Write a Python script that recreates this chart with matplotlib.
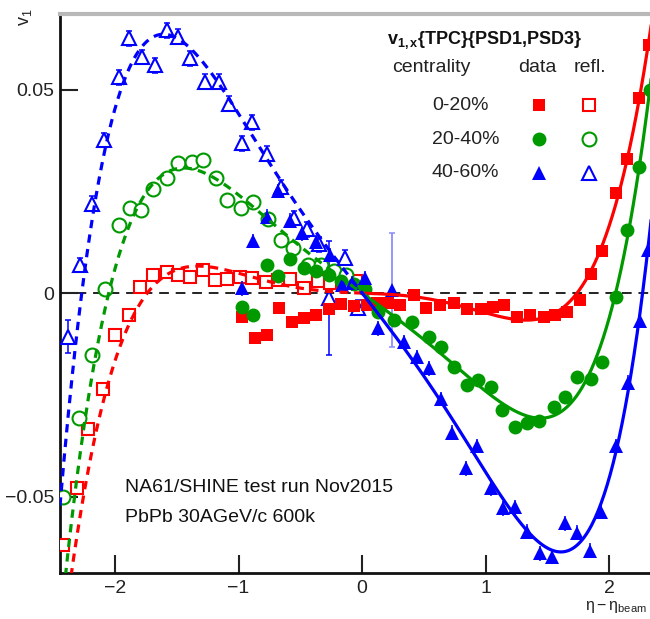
import numpy as np
import matplotlib
matplotlib.use("Agg")
import matplotlib.pyplot as plt

plt.rcParams['font.family'] = ['Liberation Sans', 'DejaVu Sans']
plt.rcParams['mathtext.fontset'] = 'custom'
plt.rcParams['mathtext.rm'] = 'Liberation Sans'
plt.rcParams['mathtext.bf'] = 'Liberation Sans:bold'
plt.rcParams['mathtext.it'] = 'Liberation Sans:italic'

# ---- v1 vs eta - eta_beam, three centrality classes ----
# 0-20 %
red_eta = [-0.97, -0.87, -0.77, -0.67, -0.57, -0.47, -0.37, -0.27, -0.17, -0.07,
           0.04, 0.12, 0.21, 0.31, 0.42, 0.52, 0.63, 0.74, 0.85, 0.96, 1.06, 1.15,
           1.25, 1.36, 1.47, 1.56, 1.66, 1.76, 1.85, 1.94, 2.05, 2.14, 2.24, 2.32]
red_v1 = [-0.0058, -0.0111, -0.0103, -0.0036, -0.0070, -0.0060, -0.0054, -0.0040, -0.0028, -0.0032,
          -0.0030, -0.0025, -0.0025, -0.0030, -0.0005, -0.0036, -0.0030, -0.0025, -0.0040, -0.0038,
          -0.0033, -0.0030, -0.0058, -0.0055, -0.0058, -0.0055, -0.0046, -0.0017, 0.0048, 0.0104,
          0.0245, 0.0330, 0.0480, 0.0610]
red_refl_eta = [-2.42, -2.31, -2.22, -2.10, -2.00, -1.89, -1.80, -1.69, -1.58, -1.49, -1.39,
                -1.29, -1.19, -1.09, -0.99, -0.89, -0.78, -0.68, -0.58, -0.47, -0.36, -0.26,
                -0.15, -0.05]
red_refl_v1 = [-0.0620, -0.0480, -0.0335, -0.0235, -0.0103, -0.0054, 0.0015, 0.0044, 0.0052,
               0.0044, 0.0040, 0.0057, 0.0032, 0.0035, 0.0040, 0.0037, 0.0028, 0.0032, 0.0034,
               0.0012, 0.0030, 0.0025, 0.0025, 0.0030]

# 20-40 %
green_eta = [-0.97, -0.88, -0.77, -0.68, -0.58, -0.47, -0.37, -0.27, -0.17, -0.07,
             0.02, 0.13, 0.26, 0.40, 0.54, 0.64, 0.74, 0.85, 0.94, 1.04, 1.13, 1.24,
             1.33, 1.43, 1.55, 1.64, 1.74, 1.85, 1.94, 2.05, 2.14, 2.24, 2.33]
green_v1 = [-0.0034, -0.0054, 0.0070, 0.0042, 0.0083, 0.0062, 0.0055, 0.0045, 0.0030, 0.0022,
            0.0010, -0.0046, -0.0066, -0.0072, -0.0107, -0.0133, -0.0181, -0.0226, -0.0214,
            -0.0230, -0.0287, -0.0328, -0.0320, -0.0314, -0.0279, -0.0255, -0.0206, -0.0210,
            -0.0169, -0.0010, 0.0155, 0.0310, 0.0500]
green_refl_eta = [-2.42, -2.29, -2.19, -2.08, -1.97, -1.88, -1.79, -1.69, -1.58, -1.49, -1.38,
                  -1.285, -1.18, -1.09, -0.98, -0.88, -0.76, -0.66, -0.56, -0.44, -0.33,
                  -0.23, -0.13]
green_refl_v1 = [-0.0500, -0.0307, -0.0152, 0.0011, 0.0167, 0.0208, 0.0204, 0.0255, 0.0282,
                 0.0319, 0.0323, 0.0327, 0.0282, 0.0229, 0.0208, 0.0224, 0.0181, 0.0130,
                 0.0110, 0.0070, 0.0068, 0.0055, 0.0045]

# 40-60 %
blue_eta = [-0.975, -0.88, -0.77, -0.68, -0.585, -0.49, -0.37, -0.26, -0.165, -0.085,
            0.02, 0.13, 0.24, 0.34, 0.44, 0.54, 0.64, 0.73, 0.84, 0.93, 1.04, 1.14, 1.24,
            1.33, 1.44, 1.54, 1.64, 1.74, 1.84, 1.93, 2.05, 2.15, 2.25, 2.31]
blue_v1 = [0.0012, 0.0128, 0.0188, 0.0251, 0.0178, 0.0147, 0.0126, 0.0094, 0.0020, 0.0024,
           0.0036, -0.0087, 0.0007, -0.0120, -0.0157, -0.0185, -0.0260, -0.0343, -0.0431,
           -0.0376, -0.0480, -0.0529, -0.0527, -0.0586, -0.0640, -0.0648, -0.0566, -0.0589,
           -0.0633, -0.0537, -0.0376, -0.0220, -0.0069, 0.0107]
blue_refl_eta = [-2.38, -2.28, -2.19, -2.09, -1.97, -1.89, -1.78, -1.68, -1.58, -1.49, -1.39,
                 -1.27, -1.16, -1.08, -0.97, -0.89, -0.77, -0.66, -0.55, -0.45, -0.35, -0.27,
                 -0.14, -0.03]
blue_refl_v1 = [-0.0107, 0.0069, 0.0220, 0.0376, 0.0530, 0.0626, 0.0580, 0.0560, 0.0646,
                0.0630, 0.0577, 0.0520, 0.0520, 0.0466, 0.0368, 0.0420, 0.0343, 0.0260,
                0.0185, 0.0157, 0.0120, -0.0013, 0.0087, -0.0036]

# typical statistical errors per class, and the few large ones
red_err, green_err, blue_err = 0.0010, 0.0012, 0.0018
blue_big_err = 0.0140          # point at eta = 0.24 and its reflection at -0.27
blue_edge_err = 0.0040         # reflected point at eta = -2.38

centralities = ['0-20%', '20-40%', '40-60%']
colors = ['#ff0000', '#009a00', '#0000ff']
markers = ['s', 'o', '^']
msizes = [9, 10, 10]

series = [
    (red_eta, red_v1, red_refl_eta, red_refl_v1, red_err),
    (green_eta, green_v1, green_refl_eta, green_refl_v1, green_err),
    (blue_eta, blue_v1, blue_refl_eta, blue_refl_v1, blue_err),
]

XMIN, XMAX = -2.445, 2.41
YMIN, YMAX = -0.0688, 0.0686

fig = plt.figure(figsize=(6.5, 6.19), dpi=100)
ax = fig.add_axes([60 / 650, 46 / 619, 600 / 650, 559 / 619])
ax.set_xlim(XMIN, XMAX)
ax.set_ylim(YMIN, YMAX)

ax.axhline(0, color='#222222', lw=1.4, dashes=(5, 3.5), zorder=1)

for (eta, v1, reta, rv1, err), col, mk, ms in zip(series, colors, markers, msizes):
    eta = np.asarray(eta)
    v1 = np.asarray(v1)
    reta = np.asarray(reta)
    rv1 = np.asarray(rv1)
    e = np.full(eta.shape, err)
    re = np.full(reta.shape, err)
    big_fwd = np.zeros(eta.shape, bool)
    if col == '#0000ff':
        big_fwd = np.isclose(eta, 0.24)
        re[np.isclose(reta, -0.27)] = blue_big_err
        re[np.isclose(reta, -2.38)] = blue_edge_err

    # odd polynomial fit to the forward data, its backward branch is the reflection
    fwd = eta > 0
    A = np.column_stack([eta[fwd], eta[fwd] ** 3, eta[fwd] ** 5])
    coef, *_ = np.linalg.lstsq(A, v1[fwd], rcond=None)

    def fitfun(x, c=coef):
        return c[0] * x + c[1] * x ** 3 + c[2] * x ** 5

    xs_f = np.linspace(0, XMAX, 300)
    xs_b = np.linspace(XMIN, 0, 300)

    # reflected points: hollow markers, error bars hidden behind the marker body
    ax.errorbar(reta, rv1, yerr=re, fmt='none', ecolor=col, elinewidth=1.1,
                capsize=2, capthick=1.1, zorder=2)
    ax.plot(reta, rv1, ls='none', marker=mk, ms=ms, mfc='white', mec=col, mew=1.5, zorder=3)
    # measured points
    ax.errorbar(eta[~big_fwd], v1[~big_fwd], yerr=e[~big_fwd], fmt=mk, ms=ms, mfc=col,
                mec=col, mew=0, ecolor=col, elinewidth=1.1, capsize=2, capthick=1.1, zorder=4)
    if big_fwd.any():
        ax.errorbar(eta[big_fwd], v1[big_fwd], yerr=blue_big_err, fmt='none',
                    ecolor='#8c8cff', elinewidth=1.3, capsize=2, capthick=1.1, zorder=4)
        ax.plot(eta[big_fwd], v1[big_fwd], ls='none', marker=mk, ms=ms, mfc=col,
                mec=col, mew=0, zorder=4)
    ax.plot(xs_f, fitfun(xs_f), color=col, lw=2.3, zorder=5)
    ax.plot(xs_b, fitfun(xs_b), color=col, lw=2.3, dashes=(2.6, 2.0), zorder=5)

# axes styling
ax.set_xticks([-2, -1, 0, 1, 2])
ax.set_yticks([-0.05, 0, 0.05])
ax.set_yticklabels(['\u22120.05', '0', '0.05'])
ax.set_xticklabels(['\u22122', '\u22121', '0', '1', '2'])
ax.tick_params(direction='in', length=13, width=1.5, labelsize=14, colors='#222222')
ax.tick_params(axis='x', pad=5)
ax.tick_params(axis='y', pad=4)
ax.minorticks_off()
for s in ['left', 'bottom']:
    ax.spines[s].set_linewidth(2)
    ax.spines[s].set_color('#111111')
ax.spines['top'].set_linewidth(3)
ax.spines['top'].set_color('#b8b8b8')
ax.spines['right'].set_visible(False)

# axis titles
fig.text(25 / 650, 1 - 8 / 619, r'$\mathregular{v_1}$', rotation=90, fontsize=13,
         ha='center', va='top', color='#222222')
fig.text(647 / 650, 1 - 607 / 619, r'$\mathregular{η−η_{beam}}$', fontsize=11.5,
         ha='right', va='center', color='#222222')

# run information
fig.text(125 / 650, 1 - 488 / 619, 'NA61/SHINE test run Nov2015', fontsize=14,
         ha='left', va='center', color='#111111')
fig.text(125 / 650, 1 - 518 / 619, 'PbPb 30AGeV/c 600k', fontsize=14,
         ha='left', va='center', color='#111111')

# legend block
fig.text(387 / 650, 1 - 40 / 619, r'$\mathbf{v_{1,x}}$' + '{TPC}{PSD1,PSD3}', fontsize=13,
         fontweight='bold', ha='left', va='center', color='#111111')
fig.text(392 / 650, 1 - 68 / 619, 'centrality', fontsize=14, ha='left', va='center',
         color='#222222')
fig.text(537 / 650, 1 - 68 / 619, 'data', fontsize=14, ha='center', va='center',
         color='#222222')
fig.text(590 / 650, 1 - 68 / 619, 'refl.', fontsize=14, ha='center', va='center',
         color='#222222')
row_y = [105, 139, 173]
for lab, col, mk, ms, yy in zip(centralities, colors, markers, msizes, row_y):
    fy = 1 - yy / 619
    fig.text(432 / 650, fy, lab, fontsize=14, ha='left', va='center', color='#222222')
    fig.lines.append(plt.Line2D([539 / 650], [fy], marker=mk, ms=ms, mfc=col, mec=col,
                                mew=0, ls='none', transform=fig.transFigure))
    fig.lines.append(plt.Line2D([589 / 650], [fy], marker=mk, ms=ms, mfc='white', mec=col,
                                mew=1.5, ls='none', transform=fig.transFigure))

fig.savefig('out.png', dpi=100)
